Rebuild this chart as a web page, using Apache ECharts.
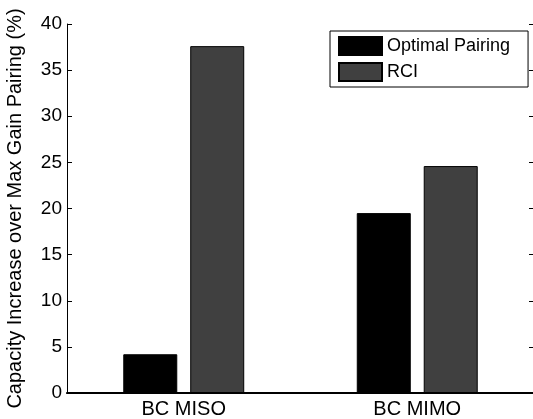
<!DOCTYPE html>
<html>
<head>
<meta charset="utf-8">
<script src="https://cdn.jsdelivr.net/npm/echarts@6/dist/echarts.min.js"></script>
<style>
html,body{margin:0;padding:0;background:#fff;}
#chart{width:533px;height:419px;}
</style>
</head>
<body>
<div id="chart"></div>
<script>
var categories = ['BC MISO', 'BC MIMO'];
var optimalPairing = [4.2, 19.5];
var rci = [37.6, 24.6];
var yTicks = [0, 5, 10, 15, 20, 25, 30, 35, 40];

var font = 'Liberation Sans, Arial, Helvetica, sans-serif';
var chart = echarts.init(document.getElementById('chart'));
var yMin = yTicks[0], yMax = yTicks[yTicks.length - 1], yStep = yTicks[1] - yTicks[0];
chart.setOption({
  animation: false,
  backgroundColor: '#fff',
  grid: { left: 67, right: -1, top: 24, bottom: 26, containLabel: false, outerBoundsMode: 'none' },
  legend: {
    orient: 'vertical',
    left: 330,
    top: 31,
    padding: [5, 18, 5, 8],
    itemGap: 6,
    itemWidth: 43,
    itemHeight: 18,
    borderColor: '#000',
    borderWidth: 1,
    backgroundColor: '#fff',
    icon: 'rect',
    textStyle: { fontFamily: font, fontSize: 18, color: '#000' },
    data: ['Optimal Pairing', 'RCI']
  },
  xAxis: [{
    type: 'category',
    data: categories,
    axisLine: { lineStyle: { color: '#000', width: 2 } },
    axisTick: { alignWithLabel: true, inside: true, length: 5, lineStyle: { color: '#000' } },
    axisLabel: { fontFamily: font, fontSize: 20, color: '#000', margin: 6 }
  }, {
    type: 'category',
    data: categories,
    position: 'top',
    axisLine: { lineStyle: { color: '#000', width: 1 } },
    axisTick: { alignWithLabel: true, inside: true, length: 5, lineStyle: { color: '#000' } },
    axisLabel: { show: false }
  }],
  yAxis: [{
    type: 'value',
    min: yMin, max: yMax, interval: yStep,
    name: 'Capacity Increase over Max Gain Pairing (%)',
    nameLocation: 'middle',
    nameGap: 42,
    nameTextStyle: { fontFamily: font, fontSize: 20, color: '#000' },
    axisLine: { show: true, lineStyle: { color: '#000', width: 1 } },
    axisTick: { show: true, inside: true, length: 5, lineStyle: { color: '#000' } },
    axisLabel: { fontFamily: font, fontSize: 19, color: '#000', margin: 5 },
    splitLine: { show: false }
  }, {
    type: 'value',
    position: 'right',
    min: yMin, max: yMax, interval: yStep,
    axisLine: { show: true, lineStyle: { color: '#000', width: 1 } },
    axisTick: { show: true, inside: true, length: 5, lineStyle: { color: '#000' } },
    axisLabel: { show: false },
    splitLine: { show: false }
  }],
  series: [{
    name: 'Optimal Pairing',
    type: 'bar',
    data: optimalPairing,
    barWidth: 54,
    barGap: '24%',
    itemStyle: { color: '#000', borderColor: '#000', borderWidth: 1 }
  }, {
    name: 'RCI',
    type: 'bar',
    data: rci,
    barWidth: 54,
    barGap: '24%',
    itemStyle: { color: '#404040', borderColor: '#000', borderWidth: 1 }
  }]
});
</script>
</body>
</html>
